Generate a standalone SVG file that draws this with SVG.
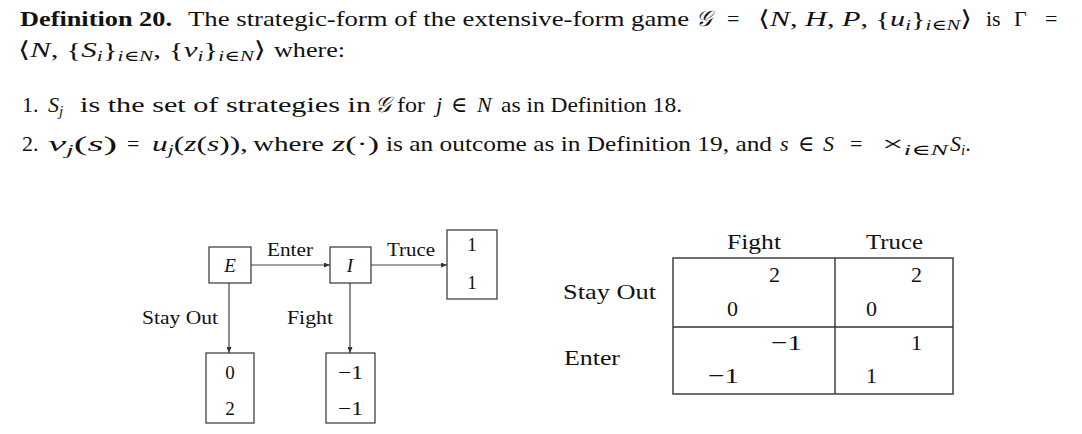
<svg xmlns="http://www.w3.org/2000/svg" width="1082" height="434" viewBox="0 0 1082 434">
<style>
text{font-family:"Liberation Serif","DejaVu Serif",serif;fill:#111}
.h{font-size:22px}
.b{font-weight:bold}
.i{font-style:italic}
.s{font-size:15px}
.t{font-size:18px}
.n{font-size:19px}
.m{font-size:22px}
.box{fill:#fff;stroke:#333;stroke-width:1.2}
.ln{stroke:#444;stroke-width:1.2;fill:none}
.tb{fill:none;stroke:#333;stroke-width:1.4}
</style>
<defs>
<marker id="ah" viewBox="0 0 6 5" refX="6" refY="2.5" markerWidth="6" markerHeight="5" markerUnits="userSpaceOnUse" orient="auto">
<path d="M0,0 L6,2.5 L0,5 Z" fill="#333"/>
</marker>
</defs>
<g id="text">
<text class="h b" x="20" y="26" textLength="152" lengthAdjust="spacingAndGlyphs">Definition 20.</text>
<text class="h" x="188" y="26" textLength="501" lengthAdjust="spacingAndGlyphs">The strategic-form of the extensive-form game</text>
<text class="h i" x="696" y="26">𝒢</text>
<text class="h" x="727" y="26">=</text>
<text class="h" x="758" y="26" textLength="214" lengthAdjust="spacingAndGlyphs">⟨<tspan class="i">N</tspan>, <tspan class="i">H</tspan>, <tspan class="i">P</tspan>, {<tspan class="i">u</tspan><tspan class="s i" dy="4">i</tspan><tspan dy="-4">}</tspan><tspan class="s i" dy="4">i</tspan><tspan class="s">∈</tspan><tspan class="s i">N</tspan><tspan dy="-4">⟩</tspan></text>
<text class="h" x="986" y="26">is</text>
<text class="h" x="1014" y="26">Γ</text>
<text class="h" x="1045" y="26">=</text>
<text class="h" x="18" y="57" textLength="248" lengthAdjust="spacingAndGlyphs">⟨<tspan class="i">N</tspan>, {<tspan class="i">S</tspan><tspan class="s i" dy="4">i</tspan><tspan dy="-4">}</tspan><tspan class="s i" dy="4">i</tspan><tspan class="s">∈</tspan><tspan class="s i">N</tspan><tspan dy="-4">, {</tspan><tspan class="i">v</tspan><tspan class="s i" dy="4">i</tspan><tspan dy="-4">}</tspan><tspan class="s i" dy="4">i</tspan><tspan class="s">∈</tspan><tspan class="s i">N</tspan><tspan dy="-4">⟩</tspan></text>
<text class="h" x="274" y="57" textLength="71" lengthAdjust="spacingAndGlyphs">where:</text>

<text class="h" x="22" y="112">1.</text>
<text class="h i" x="48" y="112">S<tspan class="s" dy="4">j</tspan></text>
<text class="h" x="80" y="112" textLength="291" lengthAdjust="spacingAndGlyphs">is the set of strategies in</text>
<text class="h i" x="375" y="112">𝒢</text>
<text class="h" x="397" y="112" textLength="28" lengthAdjust="spacingAndGlyphs">for</text>
<text class="h i" x="436" y="112">j</text>
<text class="h" x="451" y="112">∈</text>
<text class="h i" x="477" y="112">N</text>
<text class="h" x="501" y="112" textLength="181" lengthAdjust="spacingAndGlyphs">as in Definition 18.</text>

<text class="h" x="22" y="151">2.</text>
<text class="h" x="48" y="151" textLength="69" lengthAdjust="spacingAndGlyphs"><tspan class="i">v</tspan><tspan class="s i" dy="4">j</tspan><tspan dy="-4">(</tspan><tspan class="i">s</tspan>)</text>
<text class="h" x="127" y="151">=</text>
<text class="h" x="152" y="151" textLength="96" lengthAdjust="spacingAndGlyphs"><tspan class="i">u</tspan><tspan class="s i" dy="4">j</tspan><tspan dy="-4">(</tspan><tspan class="i">z</tspan>(<tspan class="i">s</tspan>)),</text>
<text class="h" x="253" y="151" textLength="71" lengthAdjust="spacingAndGlyphs">where</text>
<text class="h" x="332" y="151" textLength="47" lengthAdjust="spacingAndGlyphs"><tspan class="i">z</tspan>(·)</text>
<text class="h" x="386" y="151" textLength="386" lengthAdjust="spacingAndGlyphs">is an outcome as in Definition 19, and</text>
<text class="h i" x="780" y="151">s</text>
<text class="h" x="798" y="151">∈</text>
<text class="h i" x="823" y="151">S</text>
<text class="h" x="850" y="151">=</text>
<text class="h" x="882" y="151" textLength="66" lengthAdjust="spacingAndGlyphs">×<tspan class="s i" dy="4">i</tspan><tspan class="s">∈</tspan><tspan class="s i">N</tspan></text>
<text class="h" x="950" y="151"><tspan class="i">S</tspan><tspan class="s i" dy="4">i</tspan><tspan dy="-4">.</tspan></text>
</g>

<g id="connectors">
<line class="ln" x1="251" y1="265" x2="330" y2="265" marker-end="url(#ah)"/>
<line class="ln" x1="371" y1="265" x2="447" y2="265" marker-end="url(#ah)"/>
<line class="ln" x1="229" y1="283" x2="229" y2="353" marker-end="url(#ah)"/>
<line class="ln" x1="350" y1="283" x2="350" y2="353" marker-end="url(#ah)"/>
<text class="t" x="267" y="256" textLength="46" lengthAdjust="spacingAndGlyphs">Enter</text>
<text class="t" x="387" y="256" textLength="48" lengthAdjust="spacingAndGlyphs">Truce</text>
<text class="t" x="142" y="324" textLength="76" lengthAdjust="spacingAndGlyphs">Stay Out</text>
<text class="t" x="287" y="324" textLength="46" lengthAdjust="spacingAndGlyphs">Fight</text>
</g>

<g id="node-E">
<rect class="box" x="209" y="247" width="42" height="36"/>
<text class="n i" x="230" y="272" text-anchor="middle">E</text>
</g>
<g id="node-I">
<rect class="box" x="330" y="247" width="41" height="36"/>
<text class="n i" x="350" y="272" text-anchor="middle">I</text>
</g>
<g id="node-truce">
<rect class="box" x="447" y="230" width="50" height="69"/>
<text class="n" x="472" y="251" text-anchor="middle">1</text>
<text class="n" x="472" y="289" text-anchor="middle">1</text>
</g>
<g id="node-stayout">
<rect class="box" x="206" y="353" width="48" height="70"/>
<text class="n" x="230" y="379" text-anchor="middle">0</text>
<text class="n" x="230" y="415" text-anchor="middle">2</text>
</g>
<g id="node-fight">
<rect class="box" x="326" y="353" width="49" height="70"/>
<text class="n" x="338" y="379" textLength="25" lengthAdjust="spacingAndGlyphs">−1</text>
<text class="n" x="338" y="415" textLength="25" lengthAdjust="spacingAndGlyphs">−1</text>
</g>

<g id="table">
<rect class="tb" x="673" y="258" width="280" height="136"/>
<line class="tb" x1="673" y1="327" x2="953" y2="327"/>
<line class="tb" x1="835" y1="258" x2="835" y2="394"/>
<text class="m" x="727" y="249" textLength="54" lengthAdjust="spacingAndGlyphs">Fight</text>
<text class="m" x="866" y="249" textLength="57" lengthAdjust="spacingAndGlyphs">Truce</text>
<text class="m" x="563" y="299" textLength="93" lengthAdjust="spacingAndGlyphs">Stay Out</text>
<text class="m" x="564" y="365" textLength="56" lengthAdjust="spacingAndGlyphs">Enter</text>
<text class="m" x="769" y="282">2</text>
<text class="m" x="727" y="316">0</text>
<text class="m" x="771" y="350" textLength="31" lengthAdjust="spacingAndGlyphs">−1</text>
<text class="m" x="708" y="383" textLength="31" lengthAdjust="spacingAndGlyphs">−1</text>
<text class="m" x="911" y="282">2</text>
<text class="m" x="866" y="316">0</text>
<text class="m" x="911" y="350">1</text>
<text class="m" x="866" y="383">1</text>
</g>
</svg>
